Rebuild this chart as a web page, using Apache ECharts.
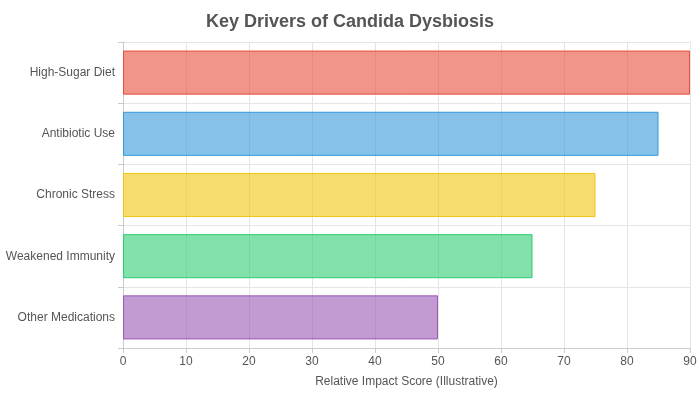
<!DOCTYPE html>
<html>
<head>
<meta charset="UTF-8">
<title>Key Drivers of Candida Dysbiosis</title>
<script src="https://cdn.jsdelivr.net/npm/echarts@6/dist/echarts.min.js"></script>
<style>
  html, body { margin: 0; padding: 0; }
  #chart { width: 700px; height: 400px; }
</style>
</head>
<body>
<div id="chart"></div>
<script>
  var categories = ['High-Sugar Diet', 'Antibiotic Use', 'Chronic Stress', 'Weakened Immunity', 'Other Medications'];
  var values = [90, 85, 75, 65, 50];
  var fills = ['rgba(231,76,60,0.6)', 'rgba(52,152,219,0.6)', 'rgba(241,196,15,0.6)', 'rgba(46,204,113,0.6)', 'rgba(155,89,182,0.6)'];
  var borders = ['#e74c3c', '#3498db', '#f1c40f', '#2ecc71', '#9b59b6'];

  var chart = echarts.init(document.getElementById('chart'));
  chart.setOption({
    animation: false,
    textStyle: { fontFamily: 'Helvetica, Arial, sans-serif' },
    title: {
      text: 'Key Drivers of Candida Dysbiosis',
      left: 'center', top: 8,
      textStyle: { fontSize: 18, fontWeight: 'bold', color: '#555' }
    },
    grid: { left: 123, right: 10, top: 42, bottom: 52 },
    xAxis: {
      type: 'value', min: 0, max: 90, interval: 10,
      name: 'Relative Impact Score (Illustrative)',
      nameLocation: 'middle', nameGap: 28,
      nameTextStyle: { color: '#555', fontSize: 12 },
      axisLine: { show: true, lineStyle: { color: '#ccc' } },
      axisTick: { show: true, lineStyle: { color: '#ccc' } },
      axisLabel: { color: '#555', fontSize: 12 },
      splitLine: { lineStyle: { color: '#e5e5e5' } }
    },
    yAxis: {
      type: 'category', data: categories, inverse: true,
      axisLine: { lineStyle: { color: '#ccc' } },
      axisTick: { show: true, lineStyle: { color: '#ccc' } },
      axisLabel: { color: '#555', fontSize: 12 },
      splitLine: { show: true, lineStyle: { color: '#e5e5e5' } }
    },
    series: [{
      type: 'bar',
      barCategoryGap: '28%',
      data: values.map(function (v, i) {
        return { value: v, itemStyle: { color: fills[i], borderColor: borders[i], borderWidth: 1 } };
      })
    }]
  });
</script>
</body>
</html>
